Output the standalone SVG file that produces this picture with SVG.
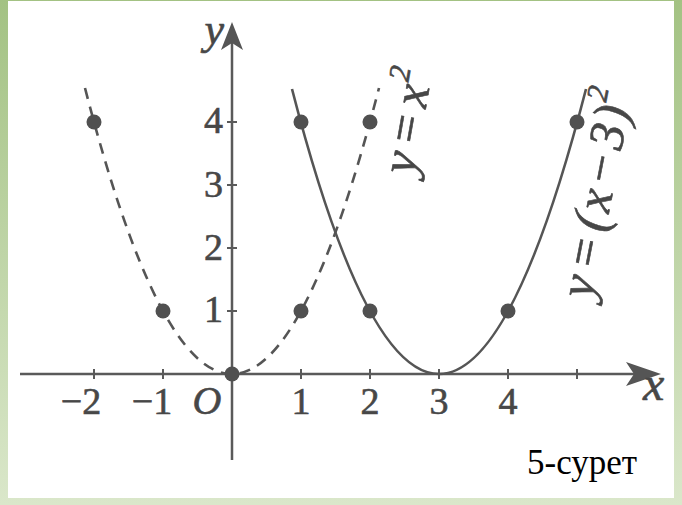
<svg xmlns="http://www.w3.org/2000/svg" width="682" height="505" viewBox="0 0 682 505">
<defs>
<linearGradient id="frame" x1="0" y1="0" x2="0" y2="1">
<stop offset="0" stop-color="#a3c283"/>
<stop offset="1" stop-color="#dae7ca"/>
</linearGradient>
<style>
.ax{stroke:#5a5a5a;stroke-width:2.5;fill:none}
.tk{stroke:#5a5a5a;stroke-width:2;fill:none}
.cv{stroke:#555;stroke-width:2.6;fill:none}
.dash{stroke-dasharray:11 8}
.dot{fill:#505050}
.num{font-family:"Liberation Serif",serif;font-size:38px;fill:#474747;stroke:#474747;stroke-width:0.6}
.it{font-family:"Liberation Serif",serif;font-style:italic;fill:#474747;stroke:#474747;stroke-width:0.6}
.cap{font-family:"Liberation Serif",serif;font-size:35px;fill:#000}
</style>
</defs>
<rect x="0" y="0" width="682" height="505" fill="url(#frame)"/>
<rect x="8" y="1" width="666" height="497" fill="#ffffff"/>

<g id="axes">
<line class="ax" x1="20" y1="374" x2="640" y2="374"/>
<path d="M661,374 L626,362 L634,374 L626,386 Z" fill="#555"/>
<line class="ax" x1="232" y1="460" x2="232" y2="40"/>
<path d="M232,22 L221,50 L232,43 L243,50 Z" fill="#555"/>
<g class="tk">
<line x1="94" y1="369" x2="94" y2="379"/>
<line x1="163" y1="369" x2="163" y2="379"/>
<line x1="301" y1="369" x2="301" y2="379"/>
<line x1="370" y1="369" x2="370" y2="379"/>
<line x1="439" y1="369" x2="439" y2="379"/>
<line x1="508" y1="369" x2="508" y2="379"/>
<line x1="577" y1="369" x2="577" y2="379"/>
<line x1="227" y1="311" x2="237" y2="311"/>
<line x1="227" y1="248" x2="237" y2="248"/>
<line x1="227" y1="185" x2="237" y2="185"/>
<line x1="227" y1="122" x2="237" y2="122"/>
</g>
<text class="it" x="224" y="44" font-size="44" text-anchor="end">y</text>
<text class="it" x="643" y="400" font-size="48">x</text>
</g>

<g id="ticklabels">
<text class="num" x="223" y="133" text-anchor="end">4</text>
<text class="num" x="223" y="197" text-anchor="end">3</text>
<text class="num" x="223" y="260" text-anchor="end">2</text>
<text class="num" x="223" y="322" text-anchor="end">1</text>
<text class="num" x="81" y="414" text-anchor="middle">−2</text>
<text class="num" x="152" y="414" text-anchor="middle">−1</text>
<text class="it" x="207" y="414" font-size="40" text-anchor="middle">O</text>
<text class="num" x="301" y="414" text-anchor="middle">1</text>
<text class="num" x="370" y="414" text-anchor="middle">2</text>
<text class="num" x="439" y="414" text-anchor="middle">3</text>
<text class="num" x="508" y="414" text-anchor="middle">4</text>
</g>

<g id="curve-x2">
<path class="cv dash" d="M85,88 Q232,660 379,88"/>
<text class="it" font-size="50" transform="translate(414,176) rotate(-80)">y<tspan dx="6">=</tspan><tspan dx="6">x</tspan><tspan font-size="30" dx="1" dy="-22">2</tspan></text>
</g>

<g id="curve-x3">
<path class="cv" d="M292,89 Q439,659 586,89"/>
<text class="it" font-size="50" transform="translate(592,300) rotate(-79)">y<tspan dx="6">=</tspan><tspan dx="6">(</tspan><tspan dx="3">x</tspan><tspan dx="4">−</tspan><tspan dx="4">3</tspan><tspan dx="2">)</tspan><tspan font-size="30" dx="1" dy="-24">2</tspan></text>
</g>

<g id="points">
<circle class="dot" cx="94" cy="122" r="7.5"/>
<circle class="dot" cx="163" cy="311" r="7.5"/>
<circle class="dot" cx="232" cy="374" r="7.5"/>
<circle class="dot" cx="301" cy="311" r="7.5"/>
<circle class="dot" cx="370" cy="122" r="7.5"/>
<circle class="dot" cx="301" cy="122" r="7.5"/>
<circle class="dot" cx="370" cy="311" r="7.5"/>
<circle class="dot" cx="508" cy="311" r="7.5"/>
<circle class="dot" cx="577" cy="122" r="7.5"/>
</g>

<text class="cap" x="527" y="474">5-сурет</text>
</svg>
